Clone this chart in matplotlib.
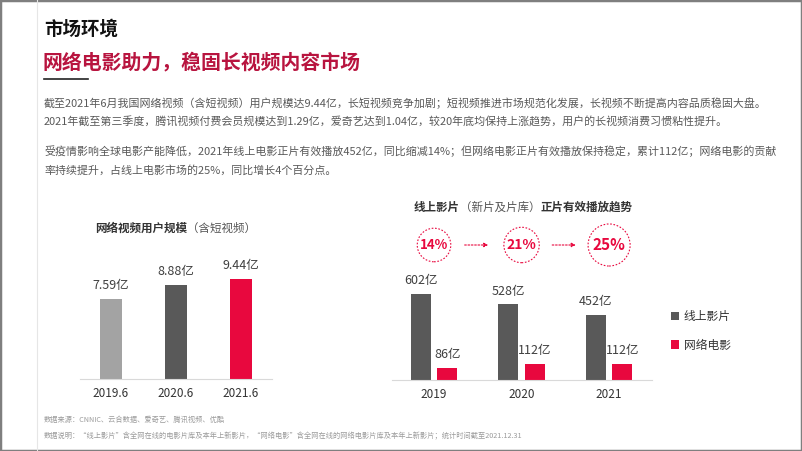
import matplotlib
matplotlib.use("Agg")
import matplotlib.pyplot as plt
from matplotlib.patches import Rectangle
from matplotlib.lines import Line2D

plt.rcParams['font.family'] = ['Noto Sans CJK SC', 'DejaVu Sans']

W, H = 802, 451

# data
user_periods = ['2019.6', '2020.6', '2021.6']
user_scale = [7.59, 8.88, 9.44]          # 亿
user_colors = ['#a3a3a3', '#595959', '#e8083e']

years = ['2019', '2020', '2021']
online_plays = [602, 528, 452]           # 亿
net_movie_plays = [86, 112, 112]         # 亿
net_share = [14, 21, 25]                 # %

RED = '#e8083e'
DARK = '#595959'
TITLE_RED = '#b8143f'


def fx(x):
    return x / W


def fy(y):
    return 1 - y / H


def ax_rect(x0, x1, y_top, y_base):
    return [fx(x0), fy(y_base), (x1 - x0) / W, (y_base - y_top) / H]


fig = plt.figure(figsize=(W / 100, H / 100), dpi=100)

# frame + faint left guide
fig.patches.append(Rectangle((0, 0), 1, 1, transform=fig.transFigure, fill=False,
                             ec='#7f7f7f', lw=2.5))
fig.lines.append(Line2D([fx(37), fx(37)], [0, 1], transform=fig.transFigure,
                        color='#e6e6e6', lw=0.8))
fig.lines.append(Line2D([fx(44), fx(88)], [fy(79), fy(79)], transform=fig.transFigure,
                        color='#222222', lw=1.2))

# headings
fig.text(fx(44), fy(29), '市场环境', fontsize=13.3, fontweight='bold', color='#111111', va='center')
fig.text(fx(43), fy(62), '网络电影助力，稳固长视频内容市场', fontsize=14.3, fontweight='bold',
         color=TITLE_RED, va='center')

para = [
    (103, '截至2021年6月我国网络视频（含短视频）用户规模达9.44亿，长短视频竞争加剧；短视频推进市场规范化发展，长视频不断提高内容品质稳固大盘。'),
    (122, '2021年截至第三季度，腾讯视频付费会员规模达到1.29亿，爱奇艺达到1.04亿，较20年底均保持上涨趋势，用户的长视频消费习惯粘性提升。'),
    (151, '受疫情影响全球电影产能降低，2021年线上电影正片有效播放452亿，同比缩减14%；但网络电影正片有效播放保持稳定，累计112亿；网络电影的贡献'),
    (170, '率持续提升，占线上电影市场的25%，同比增长4个百分点。'),
]
for y, s in para:
    fig.text(fx(44), fy(y), s, fontsize=7.9, color=DARK, va='center')

# footer notes
fig.text(fx(44), fy(420), '数据来源：CNNIC、云合数据、爱奇艺、腾讯视频、优酷', fontsize=5.2,
         color='#9a9a9a', va='center')
fig.text(fx(44), fy(436), '数据说明：“线上影片”含全网在线的电影片库及本年上新影片，“网络电影”含全网在线的网络电影片库及本年上新影片；统计时间截至2021.12.31',
         fontsize=5.2, color='#9a9a9a', va='center')


def mixed_title(x, y, parts, fs):
    # CJK glyphs are 1em wide, so advance by character count
    for s, bold in parts:
        fig.text(fx(x), fy(y), s, fontsize=fs, fontweight='bold' if bold else 'normal',
                 color='#333333' if bold else '#555555', va='center')
        x += len(s) * fs * 100 / 72


mixed_title(95, 228, [('网络视频用户规模', True), ('（含短视频）', False)], 8.3)
mixed_title(414, 207, [('线上影片', True), ('（新片及片库）', False), ('正片有效播放趋势', True)], 8.3)

# ---- left chart
ax1 = fig.add_axes(ax_rect(80, 272, 260, 379))
xs = range(len(user_scale))
ax1.bar(xs, user_scale, width=0.34, color=user_colors)
ax1.set_xlim(-0.477, 2.477)
ax1.set_ylim(0, 119 / 10.6)
for i, v in enumerate(user_scale):
    ax1.annotate(f'{v:.2f}亿', (i, v), xytext=(0, 5), textcoords='offset points',
                 ha='center', va='bottom', fontsize=9, color='#404040')
ax1.set_xticks(list(xs))
ax1.set_xticklabels(user_periods, fontsize=8.5, color='#333333')
ax1.tick_params(axis='x', length=0, pad=6)
ax1.set_yticks([])
for sp in ['top', 'right', 'left']:
    ax1.spines[sp].set_visible(False)
ax1.spines['bottom'].set_color('#d9d9d9')
ax1.spines['bottom'].set_linewidth(0.8)

# ---- right chart
ax2 = fig.add_axes(ax_rect(392, 652, 270, 380))
g = list(range(len(years)))
off = 0.15
bw = 0.23
ax2.bar([i - off for i in g], online_plays, width=bw, color=DARK, label='线上影片')
ax2.bar([i + off for i in g], net_movie_plays, width=bw, color=RED, label='网络电影')
ax2.set_xlim(-0.48, 2.49)
ax2.set_ylim(0, 110 / 0.143)
for i in g:
    ax2.annotate(f'{online_plays[i]}亿', (i - off, online_plays[i]), xytext=(0, 5),
                 textcoords='offset points', ha='center', va='bottom', fontsize=9, color='#404040')
    ax2.annotate(f'{net_movie_plays[i]}亿', (i + off, net_movie_plays[i]), xytext=(0, 5),
                 textcoords='offset points', ha='center', va='bottom', fontsize=9, color='#404040')
ax2.set_xticks(g)
ax2.set_xticklabels(years, fontsize=8.5, color='#333333')
ax2.tick_params(axis='x', length=0, pad=6)
ax2.set_yticks([])
for sp in ['top', 'right', 'left']:
    ax2.spines[sp].set_visible(False)
ax2.spines['bottom'].set_color('#d9d9d9')
ax2.spines['bottom'].set_linewidth(0.8)

# share circles above the groups
circ_y = (380 - 245) / 110
tr = ax2.get_xaxis_transform()
pads = [0.2, 0.2, 0.3]
sizes = [9.5, 10, 11]
for i, p in enumerate(net_share):
    ax2.text(i, circ_y, f'{p}%', transform=tr, ha='center', va='center', fontsize=sizes[i],
             fontweight='bold', color=RED, clip_on=False,
             bbox=dict(boxstyle=f'circle,pad={pads[i]}', fc='none', ec=RED, lw=0.8,
                       ls=(0, (1.5, 1.5))))
for i in range(len(net_share) - 1):
    ax2.annotate('', xy=(i + 0.62, circ_y), xytext=(i + 0.35, circ_y), xycoords=tr,
                 textcoords=tr, annotation_clip=False,
                 arrowprops=dict(arrowstyle='-|>', color=RED, lw=0.8, ls=(0, (1.5, 1.5)),
                                 mutation_scale=6, shrinkA=0, shrinkB=0))

# legend
leg = fig.legend(loc='center left', bbox_to_anchor=(fx(660), fy(331)), frameon=False,
                 fontsize=8.5, handlelength=0.7, handleheight=0.7, handletextpad=0.4,
                 labelspacing=1.3, labelcolor='#333333')

fig.savefig('out.png', dpi=100)
